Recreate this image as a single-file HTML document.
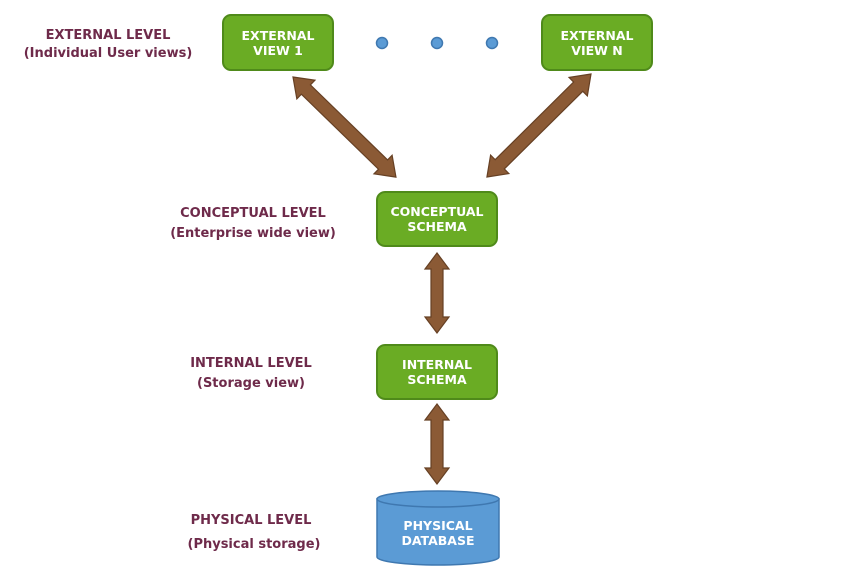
<!DOCTYPE html>
<html><head><style>html,body{margin:0;padding:0;background:#fff}</style></head><body>
<svg width="865" height="581" xmlns="http://www.w3.org/2000/svg" font-family="'DejaVu Sans', 'Liberation Sans', sans-serif" font-weight="bold">
<g fill="#6e2a4a" font-size="13" text-anchor="middle">
<text x="108" y="39">EXTERNAL LEVEL</text>
<text x="108" y="57">(Individual User views)</text>
<text x="253" y="217">CONCEPTUAL LEVEL</text>
<text x="253" y="237">(Enterprise wide view)</text>
<text x="251" y="367">INTERNAL LEVEL</text>
<text x="251" y="387">(Storage view)</text>
<text x="251" y="524">PHYSICAL LEVEL</text>
<text x="254" y="548">(Physical storage)</text>
</g>
<g fill="#6aac24" stroke="#4f8a1a" stroke-width="2">
<rect x="223" y="15" width="110" height="55" rx="8"/>
<rect x="542" y="15" width="110" height="55" rx="8"/>
<rect x="377" y="192" width="120" height="54" rx="8"/>
<rect x="377" y="345" width="120" height="54" rx="8"/>
</g>
<g fill="#fff" font-size="12.5" text-anchor="middle">
<text x="278" y="40">EXTERNAL</text><text x="278" y="55">VIEW 1</text>
<text x="597" y="40">EXTERNAL</text><text x="597" y="55">VIEW N</text>
<text x="437" y="216">CONCEPTUAL</text><text x="437" y="231">SCHEMA</text>
<text x="437" y="369">INTERNAL</text><text x="437" y="384">SCHEMA</text>
</g>
<g fill="#5b9bd5" stroke="#3f78b0" stroke-width="1.5">
<circle cx="382" cy="43" r="5.5"/><circle cx="437" cy="43" r="5.5"/><circle cx="492" cy="43" r="5.5"/>
<path d="M377,499 L377,557 A61,8 0 0 0 499,557 L499,499 Z"/>
<ellipse cx="438" cy="499" rx="61" ry="8"/>
</g>
<g fill="#fff" font-size="12.5" text-anchor="middle">
<text x="438" y="530">PHYSICAL</text><text x="438" y="545">DATABASE</text>
</g>
<g fill="#8b5a35" stroke="#664024" stroke-width="1.2">
<g transform="translate(293,77) rotate(44.2)">
<polygon points="0,0 18,-13 18,-6.5 125.6,-6.5 125.6,-13 143.6,0 125.6,13 125.6,6.5 18,6.5 18,13"/></g>
<g transform="translate(591,74) rotate(135.3)">
<polygon points="0,0 18,-13 18,-6.5 128.4,-6.5 128.4,-13 146.4,0 128.4,13 128.4,6.5 18,6.5 18,13"/></g>
<g transform="translate(437,253) rotate(90)">
<polygon points="0,0 16,-12 16,-6 64,-6 64,-12 80,0 64,12 64,6 16,6 16,12"/></g>
<g transform="translate(437,404) rotate(90)">
<polygon points="0,0 16,-12 16,-6 64,-6 64,-12 80,0 64,12 64,6 16,6 16,12"/></g>
</g>
</svg>
</body></html>
